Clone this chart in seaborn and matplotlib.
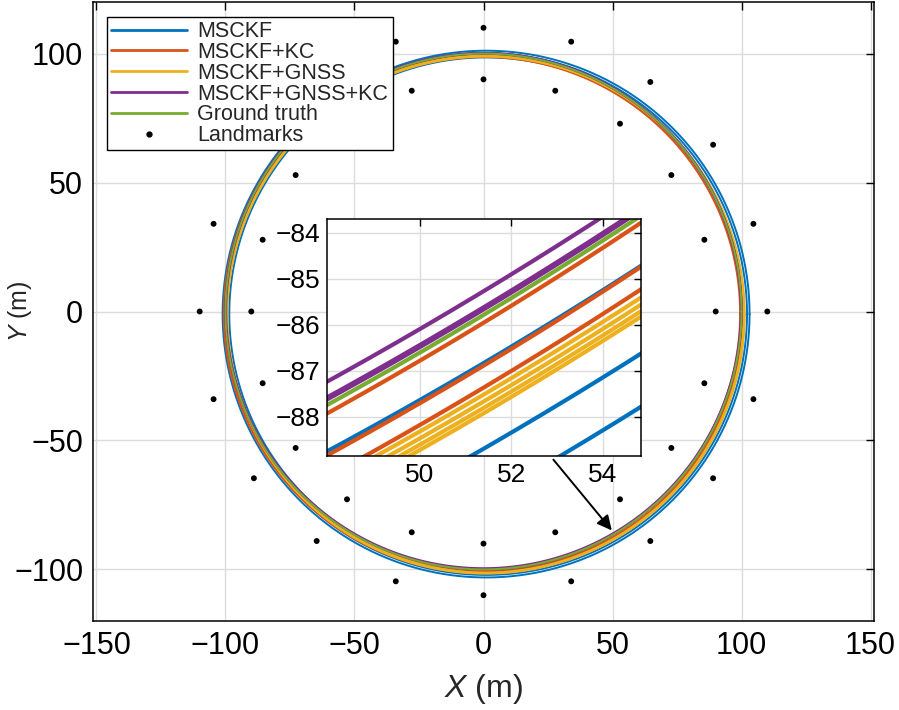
import numpy as np
import pandas as pd
import matplotlib
matplotlib.use("Agg")
import matplotlib.pyplot as plt
import seaborn as sns
from matplotlib.lines import Line2D

# ---------------- data ----------------
series = ["MSCKF", "MSCKF+KC", "MSCKF+GNSS", "MSCKF+GNSS+KC", "Ground truth"]
colors = ["#0072BD", "#D95319", "#EDB120", "#7E2F8E", "#77AC30"]
# per-series loop centre offsets (m) and per-loop radii (m)
center_x = [1.0, 0.0, 0.8, 0.0, 0.0]
center_y = [-1.0, -0.8, -1.2, 0.2, 0.0]
loop_radii = [
    [99.53, 101.14, 102.12],
    [99.46, 100.26, 100.67],
    [100.05, 100.18, 100.30, 100.40],
    [99.73, 100.03, 100.07],
    [100.00],
]
landmark_angles_deg = [0, 18, 36, 54, 72, 90, 108, 126, 144, 162,
                       180, 198, 216, 234, 252, 270, 288, 306, 324, 342]
landmark_radii = [90, 110]

main_xticks = [-150, -100, -50, 0, 50, 100, 150]
main_yticks = [-100, -50, 0, 50, 100]
inset_xticks = [50, 52, 54]
inset_yticks = [-88, -87, -86, -85, -84]

# ---------------- build tables ----------------
theta = np.linspace(0, 2 * np.pi, 7201)
rows = []
for s, cx, cy, radii in zip(series, center_x, center_y, loop_radii):
    for k, r in enumerate(radii):
        rows.append(pd.DataFrame({
            "x": cx + r * np.cos(theta),
            "y": cy + r * np.sin(theta),
            "series": s,
            "loop": f"{s}_{k}",
        }))
traj = pd.concat(rows, ignore_index=True)

lm_rows = []
for r in landmark_radii:
    for a in landmark_angles_deg:
        lm_rows.append((r * np.cos(np.deg2rad(a)), r * np.sin(np.deg2rad(a))))
landmarks = pd.DataFrame(lm_rows, columns=["x", "y"])

palette = dict(zip(series, colors))

# ---------------- style ----------------
sns.set_theme(style="white")
plt.rcParams["font.family"] = ["Liberation Sans", "DejaVu Sans"]
plt.rcParams["mathtext.fontset"] = "custom"
plt.rcParams["mathtext.it"] = "Liberation Sans:italic"
plt.rcParams["mathtext.rm"] = "Liberation Sans"
plt.rcParams["axes.unicode_minus"] = True

W, H = 899, 710
fig = plt.figure(figsize=(W / 100, H / 100), dpi=100)

ax = fig.add_axes([93 / W, (H - 621) / H, 781 / W, 619 / H])

def draw(axis, lw):
    for s in series:
        sub = traj[traj["series"] == s]
        sns.lineplot(data=sub, x="x", y="y", units="loop", estimator=None,
                     sort=False, color=palette[s], linewidth=lw, ax=axis,
                     legend=False)

draw(ax, 1.4)
sns.scatterplot(data=landmarks, x="x", y="y", color="black", s=18,
                edgecolor="none", ax=ax, legend=False, zorder=5)

ax.set_xlim(-151.35, 151.35)
ax.set_ylim(-120, 120)
ax.set_xticks(main_xticks)
ax.set_yticks(main_yticks)
ax.grid(True, color="#DCDCDC", linewidth=1.0)
ax.set_axisbelow(True)
ax.tick_params(direction="in", top=True, right=True, length=6, width=1.0,
               labelsize=22, colors="black")
ax.tick_params(axis="y", pad=7)
ax.tick_params(axis="x", pad=7)
for sp in ax.spines.values():
    sp.set_color("black")
    sp.set_linewidth(1.1)
ax.set_xlabel(r"$\it{X}$ (m)", fontsize=23)
ax.set_ylabel(r"$\it{Y}$ (m)", fontsize=18)
ax.xaxis.set_label_coords(0.5, -0.083)
ax.yaxis.set_label_coords(-0.075, 0.5)

handles = [Line2D([], [], color=c, lw=2) for c in colors]
handles.append(Line2D([], [], color="black", marker="o", markersize=3.5,
                      linestyle="none"))
labels = series + ["Landmarks"]
leg = ax.legend(handles, labels, loc="upper left",
                bbox_to_anchor=(0.018, 0.976), borderaxespad=0,
                fontsize=15.5, frameon=True, fancybox=False, framealpha=1,
                edgecolor="black", handlelength=3.5, handletextpad=0.5,
                labelspacing=-0.01, borderpad=0.2)
leg.get_frame().set_linewidth(1.0)

# arrow from inset to zoomed region
ax.annotate("", xy=(50.4, -85.7), xytext=(26.4, -56.6),
            arrowprops=dict(arrowstyle="-|>", color="black", lw=1.4,
                            mutation_scale=22), zorder=6)

# ---------------- inset ----------------
axin = fig.add_axes([327 / W, (H - 456) / H, 314 / W, 237 / H])
draw(axin, 3.0)
axin.set_xlim(47.97, 54.83)
axin.set_ylim(-88.85, -83.70)
axin.set_xticks(inset_xticks)
axin.set_yticks(inset_yticks)
axin.grid(True, color="#DCDCDC", linewidth=1.0)
axin.set_axisbelow(True)
axin.tick_params(direction="in", top=True, right=True, length=5, width=1.0,
                 labelsize=19, pad=5, colors="black")
axin.set_xlabel("")
axin.set_ylabel("")
axin.set_facecolor("white")
for sp in axin.spines.values():
    sp.set_color("black")
    sp.set_linewidth(1.1)

fig.savefig("out.png", dpi=100)
